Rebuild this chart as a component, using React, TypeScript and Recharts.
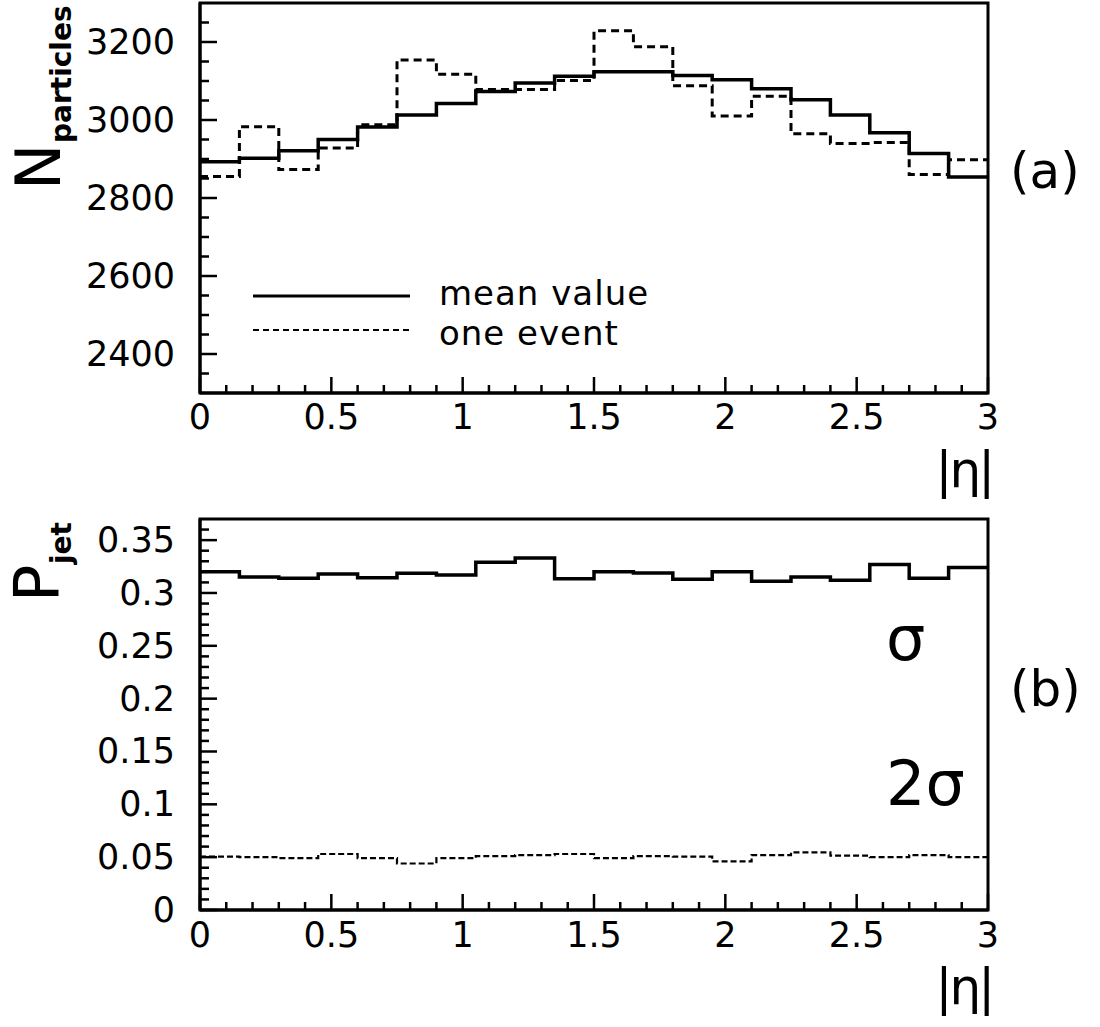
import { LineChart, Line, XAxis, YAxis, ReferenceArea } from "recharts"

// bin edges in |eta| (20 bins of 0.15)
const binEdges = [0, 0.15, 0.3, 0.45, 0.6, 0.75, 0.9, 1.05, 1.2, 1.35, 1.5, 1.65, 1.8, 1.95, 2.1, 2.25, 2.4, 2.55, 2.7, 2.85, 3]

// (a) number of particles per bin
const meanValue = [2893, 2902, 2921, 2950, 2982, 3013, 3042, 3073, 3095, 3112, 3124, 3124, 3114, 3103, 3080, 3052, 3013, 2967, 2914, 2854]
const oneEvent = [2855, 2983, 2873, 2928, 2988, 3154, 3117, 3078, 3078, 3101, 3229, 3188, 3088, 3010, 3061, 2965, 2940, 2942, 2860, 2898]

// (b) jet probability
const pSigma = [0.32, 0.315, 0.314, 0.318, 0.3145, 0.3186, 0.317, 0.329, 0.333, 0.3135, 0.32, 0.319, 0.313, 0.32, 0.311, 0.315, 0.312, 0.327, 0.314, 0.324]
const p2Sigma = [0.0505, 0.05, 0.049, 0.053, 0.049, 0.044, 0.049, 0.051, 0.052, 0.053, 0.049, 0.051, 0.0505, 0.046, 0.052, 0.0546, 0.0514, 0.05, 0.052, 0.05]

// ticks
const etaTicks = [0, 0.1, 0.2, 0.3, 0.4, 0.5, 0.6, 0.7, 0.8, 0.9, 1, 1.1, 1.2, 1.3, 1.4, 1.5, 1.6, 1.7, 1.8, 1.9, 2, 2.1, 2.2, 2.3, 2.4, 2.5, 2.6, 2.7, 2.8, 2.9, 3]
const etaMajor = [0, 0.5, 1, 1.5, 2, 2.5, 3]
const nTicks = [2350, 2400, 2450, 2500, 2550, 2600, 2650, 2700, 2750, 2800, 2850, 2900, 2950, 3000, 3050, 3100, 3150, 3200, 3250]
const nMajor = [2400, 2600, 2800, 3000, 3200]
const pTicks = [0, 0.01, 0.02, 0.03, 0.04, 0.05, 0.06, 0.07, 0.08, 0.09, 0.1, 0.11, 0.12, 0.13, 0.14, 0.15, 0.16, 0.17, 0.18, 0.19, 0.2, 0.21, 0.22, 0.23, 0.24, 0.25, 0.26, 0.27, 0.28, 0.29, 0.3, 0.31, 0.32, 0.33, 0.34, 0.35, 0.36]
const pMajor = [0, 0.05, 0.1, 0.15, 0.2, 0.25, 0.3, 0.35]

const topData = binEdges.map((eta, i) => ({
  eta,
  mean: meanValue[Math.min(i, meanValue.length - 1)],
  event: oneEvent[Math.min(i, oneEvent.length - 1)],
}))
const bottomData = binEdges.map((eta, i) => ({
  eta,
  sigma: pSigma[Math.min(i, pSigma.length - 1)],
  sigma2: p2Sigma[Math.min(i, p2Sigma.length - 1)],
}))

const FONT = "'DejaVu Sans', sans-serif"
const LEFT = 200

const isIn = (list: number[], v: number) => list.some((m) => Math.abs(m - v) < 1e-6)
const fmt = (v: number) => String(Math.round(v * 100) / 100)

const makeYTick = (major: number[]) => (props: any) => {
  const { y, payload } = props
  const big = isIn(major, payload.value)
  return (
    <g>
      <line x1={LEFT} x2={LEFT + (big ? 17 : 9)} y1={y} y2={y} stroke="#000" strokeWidth={2.5} />
      {big && (
        <text x={LEFT - 25} y={y} textAnchor="end" dominantBaseline="central" fontSize={35} fontFamily={FONT} fill="#000">
          {fmt(payload.value)}
        </text>
      )}
    </g>
  )
}

const makeXTick = (axisY: number, labelDy: number) => (props: any) => {
  const { x, payload } = props
  const big = isIn(etaMajor, payload.value)
  return (
    <g>
      <line x1={x} x2={x} y1={axisY} y2={axisY - (big ? 16 : 8)} stroke="#000" strokeWidth={2.5} />
      {big && (
        <text x={x} y={axisY + labelDy} textAnchor="middle" dominantBaseline="central" fontSize={35} fontFamily={FONT} fill="#000">
          {fmt(payload.value)}
        </text>
      )}
    </g>
  )
}

const App = () => {
  return (
    <div style={{ position: "absolute", left: 0, top: 0, width: 1100, height: 1027, background: "#fff" }}>
      <div style={{ position: "absolute", left: 0, top: 0 }}>
        <LineChart width={1100} height={470} data={topData} margin={{ top: 3, right: 112, bottom: 0, left: 0 }}>
          <XAxis
            dataKey="eta"
            type="number"
            domain={[0, 3]}
            ticks={etaTicks}
            interval={0}
            height={77}
            tickLine={false}
            axisLine={{ stroke: "#000", strokeWidth: 3 }}
            tick={makeXTick(393, 24)}
          />
          <YAxis
            type="number"
            domain={[2300, 3300]}
            allowDataOverflow
            ticks={nTicks}
            interval={0}
            width={200}
            tickLine={false}
            axisLine={{ stroke: "#000", strokeWidth: 3 }}
            tick={makeYTick(nMajor)}
          />
          <ReferenceArea x1={0} x2={3} y1={2300} y2={3300} fill="none" stroke="#000" strokeWidth={3} />
          <Line type="stepAfter" dataKey="event" stroke="#000" strokeWidth={3} strokeDasharray="8 5" dot={false} activeDot={false} isAnimationActive={false} />
          <Line type="stepAfter" dataKey="mean" stroke="#000" strokeWidth={3.5} dot={false} activeDot={false} isAnimationActive={false} />
        </LineChart>
      </div>
      <div style={{ position: "absolute", left: 0, top: 470 }}>
        <LineChart width={1100} height={557} data={bottomData} margin={{ top: 49, right: 112, bottom: 0, left: 0 }}>
          <XAxis
            dataKey="eta"
            type="number"
            domain={[0, 3]}
            ticks={etaTicks}
            interval={0}
            height={117}
            tickLine={false}
            axisLine={{ stroke: "#000", strokeWidth: 3 }}
            tick={makeXTick(440, 25)}
          />
          <YAxis
            type="number"
            domain={[0, 0.37]}
            allowDataOverflow
            ticks={pTicks}
            interval={0}
            width={200}
            tickLine={false}
            axisLine={{ stroke: "#000", strokeWidth: 3 }}
            tick={makeYTick(pMajor)}
          />
          <ReferenceArea x1={0} x2={3} y1={0} y2={0.37} fill="none" stroke="#000" strokeWidth={3} />
          <Line type="stepAfter" dataKey="sigma2" stroke="#000" strokeWidth={2.2} strokeDasharray="6 3" dot={false} activeDot={false} isAnimationActive={false} />
          <Line type="stepAfter" dataKey="sigma" stroke="#000" strokeWidth={3.5} dot={false} activeDot={false} isAnimationActive={false} />
        </LineChart>
      </div>
      <svg width={1100} height={1027} style={{ position: "absolute", left: 0, top: 0, pointerEvents: "none" }} fontFamily={FONT} fill="#000">
        {/* axis titles */}
        <text transform="rotate(-90)" x={-190} y={60} fontSize={62}>N</text>
        <text transform="rotate(-90)" x={-143} y={71} fontSize={28} fontWeight="bold">particles</text>
        <text transform="rotate(-90)" x={-602} y={58} fontSize={62}>P</text>
        <text transform="rotate(-90)" x={-564} y={71} fontSize={28} fontWeight="bold">jet</text>
        <text x={992} y={487} fontSize={50} textAnchor="end" letterSpacing={-3}>|η|</text>
        <text x={992} y={1004} fontSize={50} textAnchor="end" letterSpacing={-3}>|η|</text>
        {/* panel tags */}
        <text x={1010} y={188} fontSize={50}>(a)</text>
        <text x={1010} y={706} fontSize={50}>(b)</text>
        {/* legend */}
        <line x1={253} x2={410} y1={296} y2={296} stroke="#000" strokeWidth={3} />
        <line x1={253} x2={410} y1={330} y2={330} stroke="#000" strokeWidth={2} strokeDasharray="6 4" />
        <text x={439} y={305} fontSize={34} letterSpacing={1}>mean value</text>
        <text x={439} y={345} fontSize={34} letterSpacing={1}>one event</text>
        {/* curve labels */}
        <text x={886} y={660} fontSize={62}>σ</text>
        <text x={886} y={805} fontSize={62}>2σ</text>
      </svg>
    </div>
  )
}

export default App
